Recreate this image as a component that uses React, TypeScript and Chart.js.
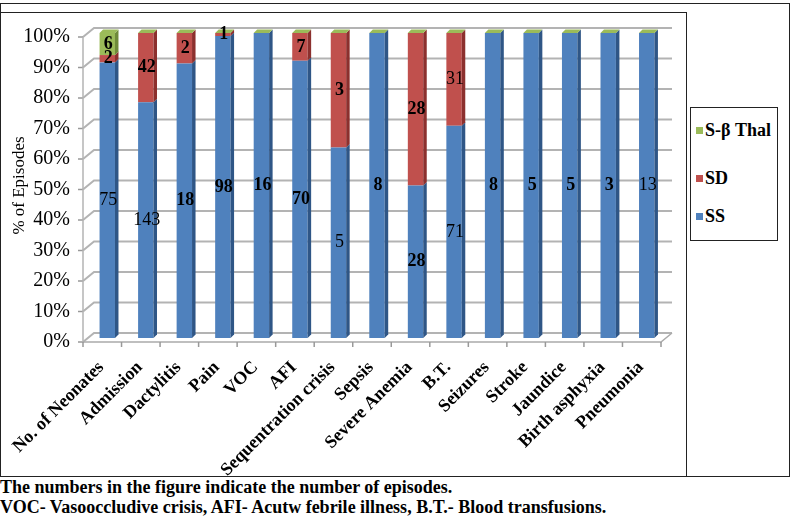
import React, { useEffect, useRef } from "react";
import { Chart, registerables } from "chart.js";

Chart.register(...registerables);

const categories = [
  "No. of Neonates", "Admission", "Dactylitis", "Pain", "VOC", "AFI",
  "Sequentration crisis", "Sepsis", "Severe Anemia", "B.T.", "Seizures",
  "Stroke", "Jaundice", "Birth asphyxia", "Pneumonia",
];
const ssCounts = [75, 143, 18, 98, 16, 70, 5, 8, 28, 71, 8, 5, 5, 3, 13];
const sdCounts = [2, 42, 2, 1, 0, 7, 3, 0, 28, 31, 0, 0, 0, 0, 0];
const sbCounts = [6, 0, 0, 0, 0, 0, 0, 0, 0, 0, 0, 0, 0, 0, 0];
const yTicks = [0, 10, 20, 30, 40, 50, 60, 70, 80, 90, 100];

const seriesNames = ["SS", "SD", "S-\u03b2 Thal"];
const seriesCounts = [ssCounts, sdCounts, sbCounts];
const colors = ["#4F81BD", "#C0504D", "#9BBB59"];
const sideColors = ["#2f5686", "#8c302e", "#6f8a3a"];
// labels drawn in regular weight (others bold)
const regularLabels: Record<string, boolean> = {
  "0-0": true, "0-1": true, "0-6": true, "0-9": true, "0-14": true, "1-9": true,
};

const SERIF = "'Liberation Serif', 'DejaVu Serif', serif";

const totals = categories.map((_, i) => ssCounts[i] + sdCounts[i] + sbCounts[i]);
const pct = (arr: number[]) => arr.map((v, i) => (v / totals[i]) * 100);

const FRONT = { dx: -5, dy: 4 };
const BACK = { dx: 6, dy: -5 };

const wall = {
  id: "wall",
  beforeDatasetsDraw(chart: any) {
    const ctx = chart.ctx;
    const { left, right } = chart.chartArea;
    const ys = chart.scales.y;
    const xs = chart.scales.x;
    ctx.save();
    ctx.lineCap = "butt";
    yTicks.forEach((v) => {
      const y = ys.getPixelForValue(v);
      ctx.strokeStyle = "#b3b3b3";
      ctx.lineWidth = 2;
      ctx.beginPath();
      ctx.moveTo(left + FRONT.dx, y + FRONT.dy);
      ctx.lineTo(left + BACK.dx, y + BACK.dy);
      ctx.lineTo(right + BACK.dx, y + BACK.dy);
      ctx.stroke();
      ctx.strokeStyle = "#999";
      ctx.lineWidth = 1.5;
      ctx.beginPath();
      ctx.moveTo(left + FRONT.dx - 5, y + FRONT.dy);
      ctx.lineTo(left + FRONT.dx, y + FRONT.dy);
      ctx.stroke();
    });
    const y0 = ys.getPixelForValue(0);
    const y100 = ys.getPixelForValue(100);
    ctx.strokeStyle = "#b3b3b3";
    ctx.lineWidth = 1.5;
    ctx.beginPath();
    ctx.moveTo(left + FRONT.dx, y100 + FRONT.dy);
    ctx.lineTo(left + FRONT.dx, y0 + FRONT.dy);
    ctx.stroke();
    ctx.strokeStyle = "#aaa";
    ctx.beginPath();
    ctx.moveTo(left + FRONT.dx, y0 + FRONT.dy);
    ctx.lineTo(right + FRONT.dx, y0 + FRONT.dy);
    ctx.lineTo(right + BACK.dx, y0 + BACK.dy);
    ctx.stroke();
    ctx.strokeStyle = "#999";
    const step = xs.getPixelForTick(1) - xs.getPixelForTick(0);
    for (let i = 0; i <= categories.length; i++) {
      const x = i < categories.length ? xs.getPixelForTick(i) - step / 2 : right;
      ctx.beginPath();
      ctx.moveTo(x + FRONT.dx, y0 + FRONT.dy);
      ctx.lineTo(x + FRONT.dx, y0 + FRONT.dy + 5);
      ctx.stroke();
    }
    ctx.restore();
  },
};

const barLook = {
  id: "barLook",
  afterDatasetsDraw(chart: any) {
    const ctx = chart.ctx;
    const d = 3.5;
    const n = chart.data.datasets.length;
    const metas = chart.data.datasets.map((_: any, k: number) => chart.getDatasetMeta(k));
    ctx.save();
    categories.forEach((_, i) => {
      let topY = Infinity;
      let xc = 0, w = 0;
      for (let k = 0; k < n; k++) {
        const el: any = metas[k].data[i];
        if (!el) continue;
        const { x, y, base, width } = el.getProps(["x", "y", "base", "width"], true);
        xc = x; w = width;
        const r = x + width / 2;
        if (Math.abs(base - y) > 0.01) {
          ctx.fillStyle = sideColors[k];
          ctx.beginPath();
          ctx.moveTo(r, y);
          ctx.lineTo(r + d, y - d);
          ctx.lineTo(r + d, base - d);
          ctx.lineTo(r, base);
          ctx.closePath();
          ctx.fill();
        }
        topY = Math.min(topY, y);
      }
      const l = xc - w / 2, r = xc + w / 2;
      ctx.fillStyle = colors[2];
      ctx.beginPath();
      ctx.moveTo(l, topY);
      ctx.lineTo(l + d, topY - d);
      ctx.lineTo(r + d, topY - d);
      ctx.lineTo(r, topY);
      ctx.closePath();
      ctx.fill();
    });
    ctx.fillStyle = "#000";
    ctx.textAlign = "center";
    ctx.textBaseline = "middle";
    for (let k = 0; k < n; k++) {
      metas[k].data.forEach((el: any, i: number) => {
        const v = seriesCounts[k][i];
        if (!v) return;
        const { x, y, base } = el.getProps(["x", "y", "base"], true);
        const weight = regularLabels[`${k}-${i}`] ? "normal" : "bold";
        ctx.font = `${weight} 18px ${SERIF}`;
        ctx.fillText(String(v), x + 1, (y + base) / 2);
      });
    }
    ctx.restore();
  },
};

export default function App() {
  const ref = useRef<HTMLCanvasElement>(null);
  useEffect(() => {
    const chart = new Chart(ref.current!, {
      type: "bar",
      data: {
        labels: categories,
        datasets: seriesCounts.map((c, k) => ({
          label: seriesNames[k],
          data: pct(c),
          backgroundColor: colors[k],
          borderWidth: 0,
          barPercentage: 0.4,
          categoryPercentage: 1,
        })),
      },
      options: {
        animation: false,
        responsive: false,
        maintainAspectRatio: false,
        layout: { padding: { top: 33, right: 20, left: 0, bottom: 0 } },
        plugins: { legend: { display: false }, tooltip: { enabled: false } },
        scales: {
          x: {
            stacked: true,
            grid: { display: false, drawTicks: false },
            border: { display: false },
            ticks: {
              color: "#000",
              font: { family: SERIF, size: 18, weight: "bold" },
              maxRotation: 45,
              minRotation: 45,
              padding: 19,
              labelOffset: -6,
              autoSkip: false,
            },
            afterFit: (s: any) => { s.height = 139; },
          },
          y: {
            stacked: true,
            min: 0,
            max: 100,
            afterBuildTicks: (s: any) => { s.ticks = yTicks.map((v) => ({ value: v })); },
            grid: { display: false, drawTicks: false },
            border: { display: false },
            ticks: {
              color: "#000",
              font: { family: SERIF, size: 20 },
              padding: 18,
              labelOffset: 4,
              callback: (v: any) => `${v}%`,
            },
            title: {
              display: true,
              text: "% of Episodes",
              color: "#000",
              font: { family: SERIF, size: 17 },
              padding: { top: 9, bottom: 0 },
            },
            afterFit: (s: any) => { s.width = 88; },
          },
        },
      },
      plugins: [wall, barLook],
    });
    return () => chart.destroy();
  }, []);

  return (
    <div style={{ position: "absolute", left: 0, top: 0, width: 794, height: 519, background: "#fff", fontFamily: SERIF }}>
      <div style={{ position: "absolute", left: 0, top: 3, width: 790, height: 474, border: "1.5px solid #222", boxSizing: "border-box" }} />
      <div style={{ position: "absolute", left: 0, top: 12, width: 687, height: 465, border: "1.5px solid #222", boxSizing: "border-box" }} />
      <canvas ref={ref} width={686} height={477} style={{ position: "absolute", left: 0, top: 0, width: 686, height: 477 }} />
      <div style={{ position: "absolute", left: 690, top: 107, width: 88, height: 134, border: "1.5px solid #222", boxSizing: "border-box", fontWeight: "bold", fontSize: 18 }}>
        {[2, 1, 0].map((k, j) => (
          <div key={k} style={{ position: "absolute", left: 5, top: [12, 60, 98][j], whiteSpace: "nowrap", display: "flex", alignItems: "center", lineHeight: "20px" }}>
            <span style={{ display: "inline-block", width: 7, height: 7, background: colors[k], marginRight: 2 }} />
            {seriesNames[k]}
          </div>
        ))}
      </div>
      <div style={{ position: "absolute", left: 0, top: 477, fontWeight: "bold", fontSize: 18, lineHeight: "20px", whiteSpace: "nowrap" }}>
        <div>The numbers in the figure indicate the number of episodes.</div>
        <div>VOC- Vasooccludive crisis, AFI- Acutw febrile illness, B.T.- Blood transfusions.</div>
      </div>
    </div>
  );
}
